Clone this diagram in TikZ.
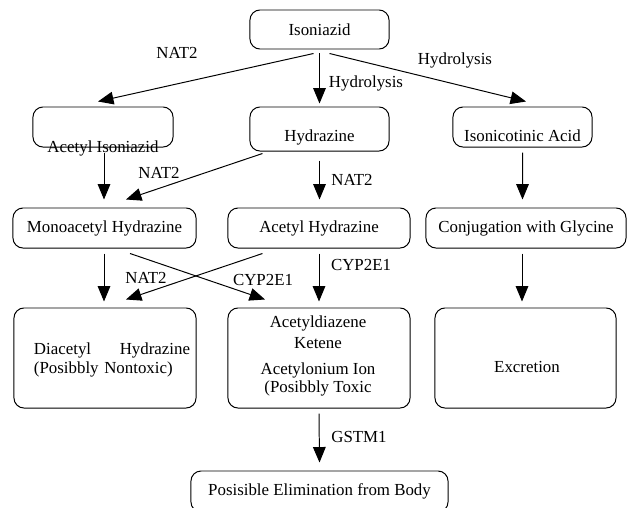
\documentclass[tikz,border=0pt]{standalone}
\usepackage{fontspec}
\setmainfont{Liberation Serif}
\usetikzlibrary{arrows.meta,calc}
\begin{document}
\begin{tikzpicture}[x=0.025cm,y=-0.025cm,
    font=\fontsize{12}{14}\selectfont,
    box/.style={draw,rounded corners=0.25cm,line width=0.7pt,inner sep=0pt},
    arr/.style={-{Triangle[length=11pt,width=9pt]},line width=0.7pt}]
    \useasboundingbox (0,0) rectangle (630,507);
    \node[box,minimum width=3.475cm,minimum height=0.975cm] (iso) at (319.5,29.5) {Isoniazid};
    \node[box,minimum width=3.5cm,minimum height=1cm] (aciso) at (103,127) {};
    \node (acisoTxt) at (103,148.5) {Acetyl Isoniazid};
    \node[box,minimum width=3.475cm,minimum height=1.1cm] (hyd) at (319.5,129) {};
    \node (hydTxt) at (319.5,137) {Hydrazine};
    \node[box,minimum width=3.475cm,minimum height=1cm] (isoacid) at (522.5,127) {};
    \node (isoacidTxt) at (522.5,136) {Isonicotinic Acid};
    \node[box,minimum width=4.575cm,minimum height=1cm] (mono) at (104.5,228) {Monoacetyl Hydrazine};
    \node[box,minimum width=4.55cm,minimum height=1cm] (achyd) at (319,228) {Acetyl Hydrazine};
    \node[box,minimum width=5cm,minimum height=1cm] (conj) at (526,228) {Conjugation with Glycine};
    \node[box,minimum width=4.55cm,minimum height=2.5cm] (diac) at (105,358) {};
    \node[text width=3.9cm,align=left,inner sep=0pt] (diacTxt) at (112,360) {Diacetyl\hfill Hydrazine\\(Posibbly Nontoxic)};
    \node[box,minimum width=4.55cm,minimum height=2.5cm] (acdz) at (319,358) {};
    \node[align=center] (acdzTxt) at (318,356) {Acetyldiazene\\[1pt]Ketene\\[4pt]Acetylonium Ion\\[-1pt](Posibbly Toxic};
    \node[box,minimum width=4.525cm,minimum height=2.5cm] (exc) at (525.5,358) {};
    \node (excTxt) at (527,367) {Excretion};
    \node[box,minimum width=6.425cm,minimum height=1.025cm] (elim) at (319.5,491.5) {Posisible Elimination from Body};
    \draw[arr] ($(iso.south)+(-6,4)$) -- ($(aciso.north)+(-5,-5)$);
    \draw[arr] ($(iso.south)+(0,4)$) -- ($(hyd.north)+(0,-3)$);
    \draw[arr] ($(iso.south)+(10,4)$) -- ($(isoacid.north)+(3.5,-5)$);
    \draw[arr] ($(aciso.south)+(1,5)$) -- ($(mono.north)+(-0.5,-8)$);
    \draw[arr] ($(hyd.south west)+(13,2)$) -- ($(mono.north)+(21.5,-8)$);
    \draw[arr] ($(hyd.south)+(0,9)$) -- ($(achyd.north)+(0.5,-8)$);
    \draw[arr] ($(isoacid.south)+(0,5)$) -- ($(conj.north)+(-3.5,-8)$);
    \draw[arr] ($(mono.south)+(-0.5,5)$) -- ($(diac.north)+(-1,-6)$);
    \draw[arr] ($(achyd.south west)+(35,5)$) -- ($(diac.north)+(21,-8)$);
    \draw[arr] ($(mono.south)+(25.5,5)$) -- ($(acdz.north)+(-54,-8)$);
    \draw[arr] ($(achyd.south)+(0,5)$) -- ($(acdz.north)+(0,-6)$);
    \draw[arr] ($(conj.south)+(-4,5)$) -- ($(exc.north)+(-3.5,-6)$);
    \draw[arr] ($(acdz.south)+(0,5)$) -- ($(elim.north)+(0,-8)$);
    \node (natA) at (177,53) {NAT2};
    \node (hydrolA) at (366,83) {Hydrolysis};
    \node (hydrolB) at (455,60) {Hydrolysis};
    \node (natB) at (159,173) {NAT2};
    \node (natC) at (352,180) {NAT2};
    \node (natD) at (146,278) {NAT2};
    \node (cypA) at (263,280) {CYP2E1};
    \node (cypB) at (361,265) {CYP2E1};
    \node (gstm) at (359,437) {GSTM1};
\end{tikzpicture}
\end{document}
